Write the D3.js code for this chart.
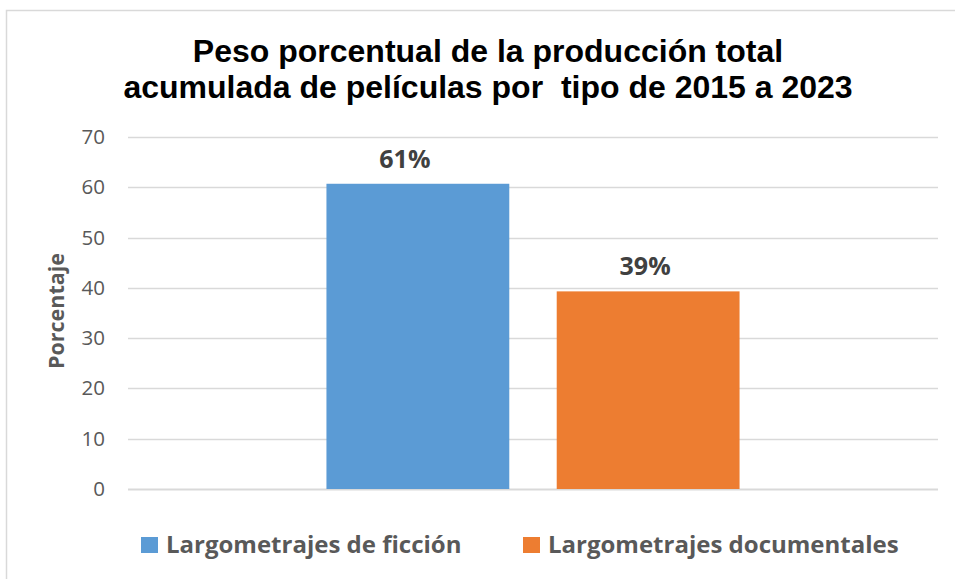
<!DOCTYPE html>
<html>
<head>
<meta charset="utf-8">
<script src="https://cdn.jsdelivr.net/npm/d3@7"></script>
<style>
  html, body { margin: 0; padding: 0; background: #fff; }
  #chart { width: 955px; height: 579px; }
</style>
</head>
<body>
<div id="chart"></div>
<script>
// ─── Data ────────────────────────────────────────────────────
const series = ["Largometrajes de ficción", "Largometrajes documentales"];
const values = [60.7, 39.3];
const valueLabels = ["61%", "39%"];
const colors = ["#5B9BD5", "#ED7D31"];
const yTicks = [0, 10, 20, 30, 40, 50, 60, 70];
const titleLines = [
    "Peso porcentual de la producción total",
    "acumulada de películas por  tipo de 2015 a 2023"
];
const yTitle = "Porcentaje";

// ─── Dimensions ──────────────────────────────────────────────
const fullW = 955, fullH = 579;
const m = { top: 137, right: 17, bottom: 90, left: 128 };
const w = fullW - m.left - m.right;
const h = fullH - m.top - m.bottom;

const svg = d3.select("#chart")
    .append("svg")
    .attr("width", fullW)
    .attr("height", fullH);

// chart area border (cropped on the right/bottom)
svg.append("rect")
    .attr("x", 6.5).attr("y", 10.5)
    .attr("width", fullW + 10).attr("height", fullH + 10)
    .attr("fill", "none")
    .attr("stroke", "#d9d9d9")
    .attr("stroke-width", 1.5);

// ─── Title ───────────────────────────────────────────────────
svg.append("text")
    .attr("text-anchor", "middle")
    .attr("font-family", "'Liberation Sans', Arial, sans-serif")
    .attr("font-weight", "bold")
    .attr("font-size", 32)
    .attr("fill", "#000")
    .style("white-space", "pre")
    .selectAll("tspan")
    .data(titleLines)
    .join("tspan")
    .attr("x", 488)
    .attr("y", (_, i) => 62 + i * 36)
    .text(d => d);

const g = svg.append("g")
    .attr("transform", `translate(${m.left},${m.top})`);

// ─── Scales ──────────────────────────────────────────────────
const y = d3.scaleLinear().domain([0, 70]).range([h, 0]);

const x0 = d3.scaleBand().domain(["all"]).range([0, w]);
const groupW = x0.bandwidth() * 0.51;
const cx = x0("all") + x0.bandwidth() / 2;
const x1 = d3.scaleBand()
    .domain(series)
    .range([cx - groupW / 2, cx + groupW / 2])
    .paddingInner(0.206);

// ─── Grid & y axis ───────────────────────────────────────────
g.selectAll("line.grid")
    .data(yTicks)
    .join("line")
    .attr("class", "grid")
    .attr("x1", 0).attr("x2", w)
    .attr("y1", d => Math.round(y(d)) + 0.5)
    .attr("y2", d => Math.round(y(d)) + 0.5)
    .attr("stroke", "#d9d9d9")
    .attr("stroke-width", d => d === 0 ? 2 : 1.5);

const yAxis = g.append("g")
    .call(d3.axisLeft(y).tickValues(yTicks).tickSize(0).tickPadding(23));
yAxis.select(".domain").remove();
yAxis.selectAll("text")
    .attr("font-family", "'Open Sans', sans-serif")
    .attr("font-size", 20.5)
    .attr("fill", "#595959");

svg.append("text")
    .attr("transform", `translate(64,${m.top + h / 2 - 2}) rotate(-90)`)
    .attr("text-anchor", "middle")
    .attr("font-family", "'Open Sans', sans-serif")
    .attr("font-weight", "bold")
    .attr("font-size", 21.5)
    .attr("fill", "#595959")
    .text(yTitle);

// ─── Bars ────────────────────────────────────────────────────
g.selectAll("rect.bar")
    .data(series)
    .join("rect")
    .attr("class", "bar")
    .attr("x", d => x1(d))
    .attr("width", x1.bandwidth())
    .attr("y", (d, i) => y(values[i]))
    .attr("height", (d, i) => h - y(values[i]))
    .attr("fill", (d, i) => colors[i]);

g.selectAll("text.val")
    .data(series)
    .join("text")
    .attr("class", "val")
    .attr("x", d => x1(d) + x1.bandwidth() / 2)
    .attr("dx", (d, i) => i === 0 ? -13 : -3)
    .attr("y", (d, i) => y(values[i]) - 16)
    .attr("text-anchor", "middle")
    .attr("font-family", "'Open Sans', sans-serif")
    .attr("font-weight", "bold")
    .attr("font-size", 25)
    .attr("fill", "#404040")
    .text((d, i) => valueLabels[i]);

// ─── Legend ──────────────────────────────────────────────────
const legendX = [141, 523];
const legend = svg.append("g")
    .attr("transform", `translate(0,537)`);

legend.selectAll("g")
    .data(series)
    .join("g")
    .attr("transform", (_, i) => `translate(${legendX[i]},0)`)
    .call(gl => {
        gl.append("rect")
            .attr("width", 17)
            .attr("height", 16)
            .attr("fill", (d, i) => colors[i]);
        gl.append("text")
            .attr("x", 25)
            .attr("y", 16)
            .attr("font-family", "'Open Sans', sans-serif")
            .attr("font-weight", "bold")
            .attr("font-size", 24)
            .attr("fill", "#595959")
            .text(d => d);
    });
</script>
</body>
</html>
